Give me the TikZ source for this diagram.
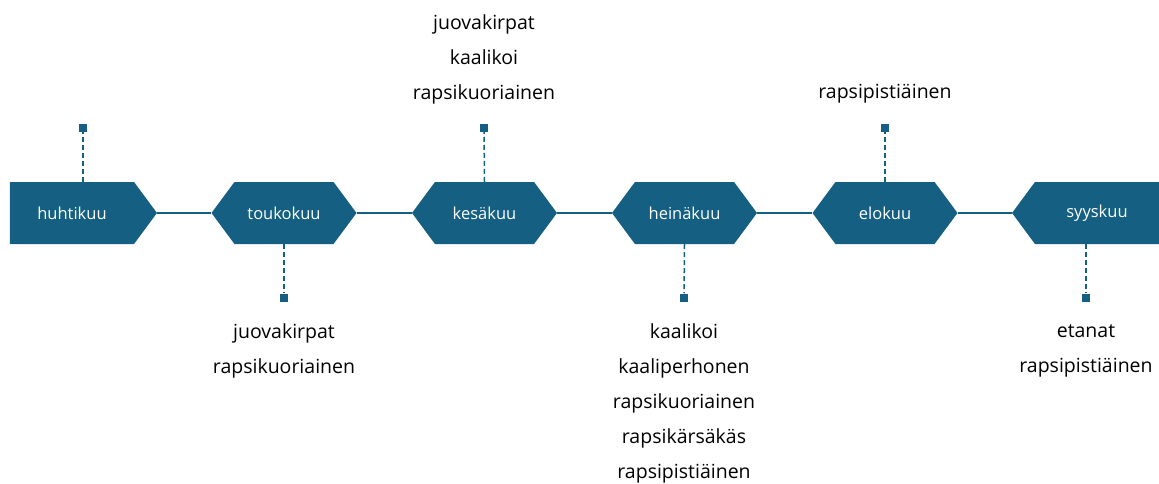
\documentclass[tikz,border=0pt]{standalone}
\usepackage{fontspec}
\setmainfont{Open Sans}
\usetikzlibrary{shapes.symbols}
\definecolor{monthblue}{HTML}{156082}

\begin{document}
\begin{tikzpicture}[x=1pt,y=-1pt,
	month/.style={shape=signal, signal pointer angle=107, fill=monthblue, text=white, minimum width=145pt, minimum height=62pt, inner sep=0pt, font=\fontsize{16.5}{18}\selectfont},
	pin/.style={fill=monthblue, minimum size=8pt, inner sep=0pt},
	stem/.style={monthblue, line width=1.5pt, dash pattern=on 5pt off 3pt},
	link/.style={monthblue, line width=2pt},
	pests/.style={align=center, anchor=north, inner sep=0pt, font=\fontsize{19.5}{35}\selectfont}]
	\useasboundingbox (0,0) rectangle (1159,484);
	\node[month, signal to=east, minimum width=147pt] (huhti) at (72,213) {huhtikuu};
	\node[month, signal to=east and west] (touko) at (284,213) {toukokuu};
	\node[month, signal to=east and west] (kesa) at (484.5,213) {kesäkuu};
	\node[month, signal to=east and west] (heina) at (684.5,213) {heinäkuu};
	\node[month, signal to=east and west] (elo) at (885,213) {elokuu};
	\node[month, signal to=west, minimum width=147pt] (syys) at (1097,213) {syyskuu};
	\draw[link] (huhti.east) -- (touko.west);
	\draw[link] (touko.east) -- (kesa.west);
	\draw[link] (kesa.east) -- (heina.west);
	\draw[link] (heina.east) -- (elo.west);
	\draw[link] (elo.east) -- (syys.west);
	\node[pin] (huhti-pin) at (83,128) {};
	\node[pin] (touko-pin) at (284,297.5) {};
	\node[pin] (kesa-pin) at (484,128) {};
	\node[pin] (heina-pin) at (684,297.5) {};
	\node[pin] (elo-pin) at (885,128) {};
	\node[pin] (syys-pin) at (1086,297.5) {};
	\draw[stem] (huhti.north -| huhti-pin) -- (huhti-pin);
	\draw[stem] (touko.south) -- (touko-pin);
	\draw[stem] (kesa.north) -- (kesa-pin);
	\draw[stem] (heina.south) -- (heina-pin);
	\draw[stem] (elo.north) -- (elo-pin);
	\draw[stem] (syys.south -| syys-pin) -- (syys-pin);
	\node[pests] (kesa-pests) at (484,14) {juovakirpat\\kaalikoi\\rapsikuoriainen};
	\node[pests] (elo-pests) at (885,84) {rapsipistiäinen};
	\node[pests] (touko-pests) at (284,323) {juovakirpat\\rapsikuoriainen};
	\node[pests] (heina-pests) at (684,323) {kaalikoi\\kaaliperhonen\\rapsikuoriainen\\rapsikärsäkäs\\rapsipistiäinen};
	\node[pests] (syys-pests) at (1086,324) {etanat\\rapsipistiäinen};
\end{tikzpicture}
\end{document}
